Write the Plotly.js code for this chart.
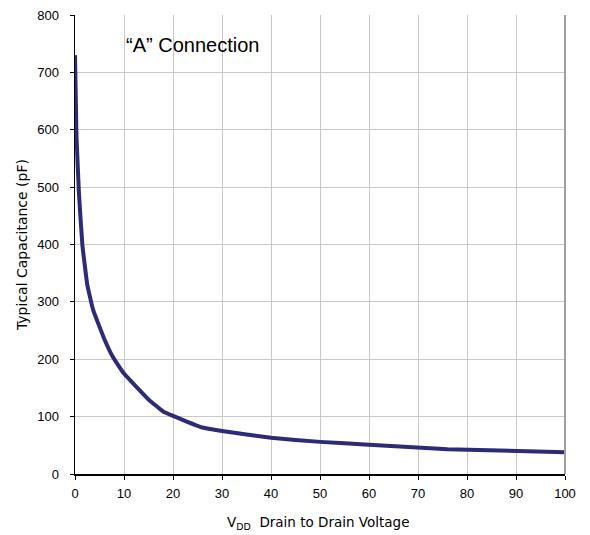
<!DOCTYPE html>
<html><head><meta charset="utf-8">
<script src="https://cdn.plot.ly/plotly-3.0.1.min.js"></script>
<style>html,body{margin:0;padding:0;background:#fff;}#chart{width:590px;height:535px;}</style>
</head><body><div id="chart"></div>
<script>
const vdd = [0, 0.3, 0.8, 1.5, 2.5, 3.7, 6, 7.8, 10, 15, 18, 26, 30, 40, 50, 60, 76, 100];
const capacitance = [730, 590, 490, 400, 330, 286, 235, 203, 175, 130, 109, 81, 75, 63, 56, 51, 43, 38];
const xTicks = [0, 10, 20, 30, 40, 50, 60, 70, 80, 90, 100];
const yTicks = [0, 100, 200, 300, 400, 500, 600, 700, 800];

const trace = {
  x: vdd, y: capacitance, type: 'scatter', mode: 'lines',
  line: {color: '#2b2b78', width: 4, shape: 'spline', smoothing: 0.3},
  hoverinfo: 'skip'
};
const layout = {
  width: 590, height: 535,
  margin: {l: 75, r: 25, t: 15, b: 61},
  paper_bgcolor: '#fff', plot_bgcolor: '#fff',
  showlegend: false,
  font: {family: 'Liberation Sans, Arial, sans-serif', size: 13, color: '#000'},
  xaxis: {
    range: [0, 100], tickvals: xTicks, ticktext: xTicks.map(String),
    showgrid: true, gridcolor: '#c8c8c8', gridwidth: 1,
    showline: true, linecolor: '#000', linewidth: 1.5,
    ticks: 'outside', ticklen: 4, tickcolor: '#000', zeroline: false,
    tickfont: {size: 13}, ticklabelstandoff: 3
  },
  yaxis: {
    range: [0, 800], tickvals: yTicks, ticktext: yTicks.map(String),
    showgrid: true, gridcolor: '#c8c8c8', gridwidth: 1,
    showline: true, linecolor: '#000', linewidth: 1.5,
    ticks: 'outside', ticklen: 4, tickcolor: '#000', zeroline: false,
    tickfont: {size: 13}, ticklabelstandoff: 8
  },
  annotations: [{
    text: '“A” Connection', xref: 'paper', yref: 'paper',
    x: 0.101, y: 0.935, xanchor: 'left', yanchor: 'middle', showarrow: false,
    font: {family: 'Liberation Sans, Arial, sans-serif', size: 20, color: '#000'}
  }, {
    text: 'V<sub>DD</sub>  Drain to Drain Voltage', xref: 'paper', yref: 'paper',
    x: 0.496, y: -0.107, xanchor: 'center', yanchor: 'middle', showarrow: false,
    font: {family: 'DejaVu Sans, Verdana, sans-serif', size: 13.5, color: '#000'}
  }, {
    text: 'Typical Capacitance (pF)', xref: 'paper', yref: 'paper',
    x: -0.108, y: 0.499, xanchor: 'center', yanchor: 'middle', showarrow: false, textangle: -90,
    font: {family: 'DejaVu Sans, Verdana, sans-serif', size: 14, color: '#000'}
  }],
  shapes: [{type: 'line', xref: 'paper', yref: 'paper', x0: 1, x1: 1, y0: 0, y1: 1, line: {color: '#a0a0a0', width: 2}}]
};
Plotly.newPlot('chart', [trace], layout, {displayModeBar: false, staticPlot: true});
</script></body></html>
